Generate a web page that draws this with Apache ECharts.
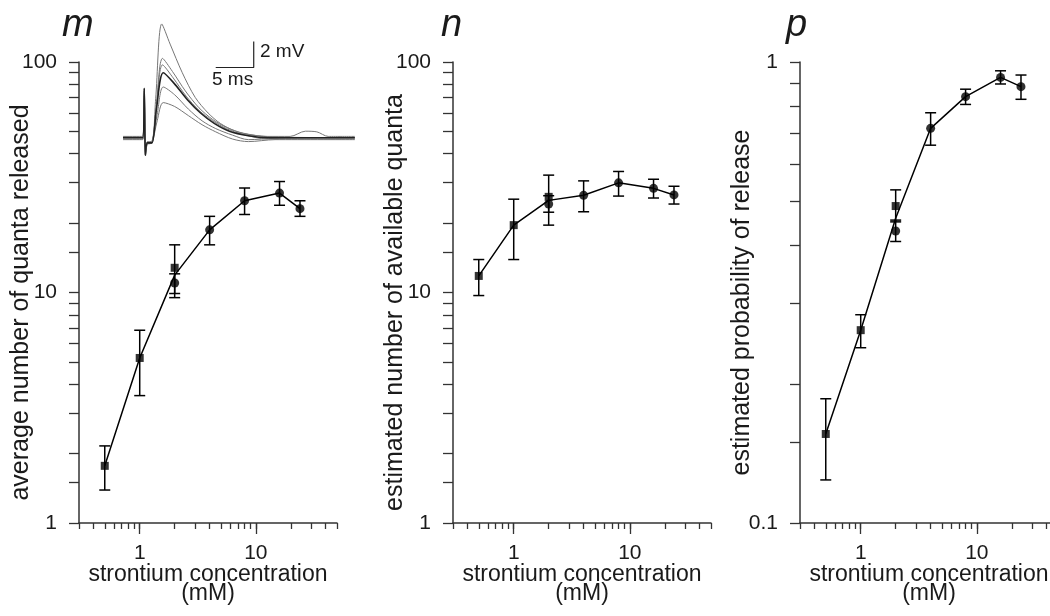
<!DOCTYPE html>
<html>
<head>
<meta charset="utf-8">
<script src="https://cdn.jsdelivr.net/npm/echarts@6/dist/echarts.min.js"></script>
<style>
  html, body { margin: 0; padding: 0; background: #fff; }
  #chart { width: 1050px; height: 616px; }
</style>
</head>
<body>
<div id="chart"></div>
<script>
// concentrations (mM)
const concSq = [0.5, 1, 2];
const concCi = [2, 4, 8, 16, 24];
const concLine = [0.5, 1, 2, 4, 8, 16, 24];

// m: average number of quanta released
const mSq = [1.77, 5.2, 12.8];
const mSqLo = [1.39, 3.57, 9.9];
const mSqHi = [2.16, 6.86, 16.1];
const mCi = [11.0, 18.7, 25.0, 27.0, 23.1];
const mCiLo = [9.5, 16.1, 21.8, 23.9, 21.4];
const mCiHi = [12.05, 21.4, 28.4, 30.3, 25.0];
const mLine = [1.77, 5.2, 11.9, 18.7, 25.0, 27.0, 23.1];

// n: estimated number of available quanta
const nSq = [11.8, 19.6, 26.0];
const nSqLo = [9.7, 13.9, 19.6];
const nSqHi = [13.9, 25.4, 32.3];
const nCi = [24.2, 26.4, 29.9, 28.3, 26.5];
const nCiLo = [22.3, 22.4, 26.2, 25.7, 24.2];
const nCiHi = [26.3, 30.5, 33.5, 31.0, 28.9];
const nLine = [11.8, 19.6, 25.1, 26.4, 29.9, 28.3, 26.5];

// p: estimated probability of release
const pSq = [0.156, 0.262, 0.487];
const pSqLo = [0.124, 0.240, 0.450];
const pSqHi = [0.186, 0.283, 0.528];
const pCi = [0.430, 0.718, 0.841, 0.926, 0.884];
const pCiLo = [0.408, 0.660, 0.809, 0.896, 0.830];
const pCiHi = [0.454, 0.776, 0.873, 0.957, 0.937];
const pLine = [0.156, 0.262, 0.458, 0.718, 0.841, 0.926, 0.884];

// tick positions
const xTicks = [0.3, 0.4, 0.5, 0.6, 0.7, 0.8, 0.9, 1, 2, 3, 4, 5, 6, 7, 8, 9, 10, 20, 30, 40, 50];
const xLabels = [1, 10];
const yTicksQ = [1, 1.5, 2, 3, 4, 5, 6, 7, 8, 9, 10, 15, 20, 30, 40, 50, 60, 70, 80, 90, 100];
const yLabelsQ = [1, 10, 100];
const yTicksP = [0.1, 0.15, 0.2, 0.3, 0.4, 0.5, 0.6, 0.7, 0.8, 0.9, 1];
const yLabelsP = [0.1, 1];

// inset traces: time (ms), voltage (mV)
const traceA = [[0,0],[2.6,0],[2.8,3.8],[2.95,-1.3],[3.2,-0.4],[3.8,-0.4],[4.3,3.0],[5.1,8.75],[6.2,7.2],[7.8,5.0],[9.5,3.1],[11.2,1.9],[12.8,1.1],[14.8,0.5],[17,0.2],[20,0.05],[30.5,0]];
const traceB = [[0,0.1],[2.6,0.1],[2.8,3.6],[2.95,-1.2],[3.2,-0.3],[3.8,-0.3],[4.4,2.6],[5.2,6.1],[6.5,5.1],[8.2,3.6],[10,2.3],[11.8,1.4],[13.6,0.8],[15.8,0.35],[19,0.1],[22,0.1],[24,0.5],[25.5,0.45],[27,0.1],[30.5,0.1]];
const traceC = [[0,-0.1],[2.6,-0.1],[2.8,3.2],[2.95,-1.4],[3.2,-0.5],[3.8,-0.4],[4.4,2.4],[5.2,5.6],[6.6,4.6],[8.3,3.2],[10,2.1],[11.8,1.3],[13.6,0.7],[15.8,0.25],[19,-0.1],[30.5,-0.1]];
const traceE = [[0,0.05],[2.6,0.05],[2.8,3.0],[2.95,-1.2],[3.2,-0.4],[3.8,-0.3],[4.5,1.8],[5.3,3.9],[6.8,3.3],[8.6,2.2],[10.4,1.3],[12.2,0.7],[14.4,0.2],[16.5,-0.15],[20,-0.05],[30.5,0]];
const traceF = [[0,-0.15],[2.6,-0.15],[2.8,2.8],[2.95,-1.3],[3.2,-0.5],[3.8,-0.4],[4.5,1.3],[5.3,2.7],[6.8,2.4],[8.6,1.7],[10.4,1.0],[12.2,0.45],[14.4,-0.1],[16.5,-0.3],[20,-0.15],[30.5,-0.15]];
const traceMean = [[0,0],[2.6,0],[2.8,3.8],[2.95,-1.35],[3.2,-0.4],[3.8,-0.4],[4.4,2.2],[5.3,5.0],[6.7,4.2],[8.5,2.9],[10.2,1.9],[12,1.1],[14,0.5],[16.5,0.15],[19,0],[30.5,0]];
const scaleBar = [[12.2, 5.4], [17.2, 5.4], [17.2, 7.4]];

const FONT = 'Liberation Sans, Arial, sans-serif';
const INK = '#1a1a1a';

const chart = echarts.init(document.getElementById('chart'), null, { renderer: 'canvas' });

const grids = [
  { left: 79, top: 62, width: 258, height: 461, outerBoundsMode: 'none', containLabel: false },
  { left: 453, top: 62, width: 258, height: 461, outerBoundsMode: 'none', containLabel: false },
  { left: 800, top: 62, width: 258, height: 461, outerBoundsMode: 'none', containLabel: false },
  { left: 123, top: 7.7, width: 231.8, height: 156, outerBoundsMode: 'none', containLabel: false }
];

function xAxisMain(gi) {
  return {
    type: 'log', gridIndex: gi, position: 'bottom', min: 0.3, max: 50,
    name: 'strontium concentration\n(mM)', nameLocation: 'middle', nameGap: 42, nameMoveOverlap: false,
    nameTextStyle: { fontFamily: FONT, fontSize: 23, color: INK, lineHeight: 19 },
    axisLine: { lineStyle: { color: '#333', width: 1.5 } },
    axisTick: { inside: false, customValues: xTicks, length: 6, lineStyle: { color: '#333', width: 1.3 } },
    axisLabel: { customValues: xLabels, margin: 20, fontFamily: FONT, fontSize: 21, color: INK },
    splitLine: { show: false }, minorTick: { show: false }
  };
}
function xAxisMajor(gi) {
  return {
    type: 'log', gridIndex: gi, position: 'bottom', min: 0.3, max: 50,
    axisLine: { show: false },
    axisTick: { inside: false, customValues: xLabels, length: 11, lineStyle: { color: '#333', width: 1.3 } },
    axisLabel: { show: false }, splitLine: { show: false }
  };
}
function yAxisMain(gi, name, min, max, ticks, labels) {
  return {
    type: 'log', gridIndex: gi, position: 'left', min: min, max: max,
    name: name, nameLocation: 'middle', nameGap: 45, nameMoveOverlap: false,
    nameTextStyle: { fontFamily: FONT, fontSize: 25, color: INK, padding: [0, 20, 0, 0] },
    axisLine: { lineStyle: { color: '#333', width: 1.5 } },
    axisTick: { inside: false, customValues: ticks, length: 10, lineStyle: { color: '#333', width: 1.3 } },
    axisLabel: { customValues: labels, margin: 22, fontFamily: FONT, fontSize: 21, color: INK },
    splitLine: { show: false }, minorTick: { show: false }
  };
}

function errRender(params, api) {
  const x = api.value(0);
  const top = api.coord([x, api.value(2)]);
  const bot = api.coord([x, api.value(1)]);
  const w = 5.5;
  const st = { stroke: '#000', lineWidth: 1.5 };
  return {
    type: 'group',
    children: [
      { type: 'line', shape: { x1: top[0], y1: top[1], x2: bot[0], y2: bot[1] }, style: st },
      { type: 'line', shape: { x1: top[0] - w, y1: top[1], x2: top[0] + w, y2: top[1] }, style: st },
      { type: 'line', shape: { x1: bot[0] - w, y1: bot[1], x2: bot[0] + w, y2: bot[1] }, style: st }
    ]
  };
}

function zip(xs, ys) { return xs.map((x, i) => [x, ys[i]]); }
function zip3(xs, lo, hi) { return xs.map((x, i) => [x, lo[i], hi[i]]); }

function panelSeries(ax, sq, sqLo, sqHi, ci, ciLo, ciHi, line) {
  const idx = { xAxisIndex: ax.x, yAxisIndex: ax.y };
  return [
    Object.assign({ type: 'line', data: zip(concLine, line), symbol: 'none',
      lineStyle: { color: '#000', width: 1.5 }, silent: true, z: 2 }, idx),
    Object.assign({ type: 'custom', renderItem: errRender, data: zip3(concSq, sqLo, sqHi),
      encode: { x: 0, y: [1, 2] }, silent: true, z: 3 }, idx),
    Object.assign({ type: 'custom', renderItem: errRender, data: zip3(concCi, ciLo, ciHi),
      encode: { x: 0, y: [1, 2] }, silent: true, z: 3 }, idx),
    Object.assign({ type: 'scatter', data: zip(concSq, sq), symbol: 'rect', symbolSize: 8,
      itemStyle: { color: '#000' }, z: 4 }, idx),
    Object.assign({ type: 'scatter', data: zip(concCi, ci), symbol: 'circle', symbolSize: 9,
      itemStyle: { color: '#000' }, z: 4 }, idx)
  ];
}

function traceSeries(data, color, width) {
  return { type: 'line', xAxisIndex: 6, yAxisIndex: 3, data: data, symbol: 'none', smooth: 0.3,
    lineStyle: { color: color, width: width }, silent: true, z: 1 };
}

const option = {
  animation: false,
  backgroundColor: '#fff',
  grid: grids,
  xAxis: [
    xAxisMain(0), xAxisMain(1), xAxisMain(2),
    xAxisMajor(0), xAxisMajor(1), xAxisMajor(2),
    { type: 'value', gridIndex: 3, min: 0, max: 30.5, show: false }
  ],
  yAxis: [
    yAxisMain(0, 'average number of quanta released', 1, 100, yTicksQ, yLabelsQ),
    yAxisMain(1, 'estimated number of available quanta', 1, 100, yTicksQ, yLabelsQ),
    yAxisMain(2, 'estimated probability of release', 0.1, 1, yTicksP, yLabelsP),
    { type: 'value', gridIndex: 3, min: -2, max: 10, show: false }
  ],
  series: [
    traceSeries(traceA, '#777', 1),
    traceSeries(traceB, '#777', 1),
    traceSeries(traceC, '#777', 1),
    traceSeries(traceE, '#777', 1),
    traceSeries(traceF, '#777', 1),
    traceSeries(traceMean, '#222', 1.6),
    { type: 'line', xAxisIndex: 6, yAxisIndex: 3, data: scaleBar, symbol: 'none',
      lineStyle: { color: '#222', width: 1.2 }, silent: true },
    ...panelSeries({ x: 0, y: 0 }, mSq, mSqLo, mSqHi, mCi, mCiLo, mCiHi, mLine),
    ...panelSeries({ x: 1, y: 1 }, nSq, nSqLo, nSqHi, nCi, nCiLo, nCiHi, nLine),
    ...panelSeries({ x: 2, y: 2 }, pSq, pSqLo, pSqHi, pCi, pCiLo, pCiHi, pLine)
  ],
  graphic: [
    { type: 'text', left: 62, top: 6, style: { text: 'm', font: 'italic 38px ' + FONT, fill: INK } },
    { type: 'text', left: 441, top: 6, style: { text: 'n', font: 'italic 38px ' + FONT, fill: INK } },
    { type: 'text', left: 786, top: 6, style: { text: 'p', font: 'italic 38px ' + FONT, fill: INK } },
    { type: 'text', left: 260, top: 42, style: { text: '2 mV', font: '19px ' + FONT, fill: INK } },
    { type: 'text', left: 212, top: 70, style: { text: '5 ms', font: '19px ' + FONT, fill: INK } }
  ]
};

chart.setOption(option);
</script>
</body>
</html>
